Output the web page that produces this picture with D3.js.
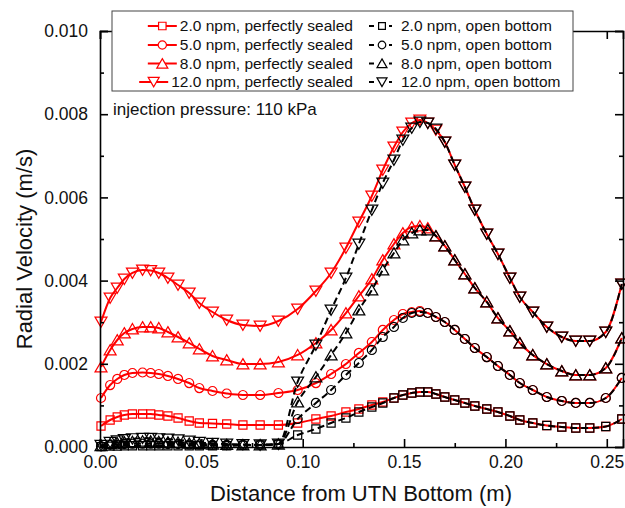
<!DOCTYPE html>
<html>
<head>
<meta charset="utf-8">
<script src="https://cdn.jsdelivr.net/npm/d3@7"></script>
<style>
body { margin: 0; background: #fff; }
svg { font-family: "Liberation Sans", Arial, sans-serif; }
.axis path, .axis line { stroke: #000; stroke-width: 1.6; }
.axis text { font-size: 17.5px; fill: #111; }
.lab { fill: #111; }
</style>
</head>
<body>
<div id="chart"></div>
<script>
// distance from bottom (m), shared by every series
const xs = [0.0005, 0.005, 0.0085, 0.012, 0.016, 0.021, 0.025, 0.029, 0.0335, 0.0385,
  0.044, 0.049, 0.0555, 0.0625, 0.0705, 0.079, 0.088, 0.0975, 0.1065, 0.114,
  0.1213, 0.1277, 0.1341, 0.1395, 0.1450, 0.1494, 0.1538, 0.1578, 0.1617, 0.1657,
  0.1701, 0.1750, 0.1800, 0.1849, 0.1908, 0.1963, 0.2022, 0.2071, 0.2135, 0.2204,
  0.2278, 0.2347, 0.2416, 0.2495, 0.2574]

// perfectly sealed (m/s)
const sealed2 = [0.000505, 0.000649, 0.000721, 0.000769, 0.000793, 0.000793, 0.000793, 0.000769, 0.000745, 0.000697,
  0.000625, 0.000577, 0.000565, 0.000553, 0.000529, 0.000529, 0.000529, 0.000577, 0.000673, 0.000745,
  0.000841, 0.000913, 0.001010, 0.001082, 0.001178, 0.001250, 0.001298, 0.001322, 0.001322, 0.001274,
  0.001202, 0.001130, 0.001058, 0.000986, 0.000913, 0.000841, 0.000745, 0.000649, 0.000577, 0.000517,
  0.000481, 0.000457, 0.000457, 0.000493, 0.000673]
const sealed5 = [0.001178, 0.001490, 0.001635, 0.001731, 0.001779, 0.001791, 0.001779, 0.001755, 0.001707, 0.001635,
  0.001538, 0.001418, 0.001346, 0.001286, 0.001250, 0.001250, 0.001298, 0.001370, 0.001538, 0.001755,
  0.001995, 0.002260, 0.002524, 0.002813, 0.003053, 0.003197, 0.003245, 0.003269, 0.003221, 0.003125,
  0.003005, 0.002813, 0.002596, 0.002380, 0.002163, 0.001947, 0.001731, 0.001538, 0.001370, 0.001202,
  0.001106, 0.001058, 0.001058, 0.001178, 0.001659]
const sealed8 = [0.001923, 0.002332, 0.002572, 0.002740, 0.002837, 0.002885, 0.002885, 0.002861, 0.002764, 0.002644,
  0.002500, 0.002356, 0.002188, 0.002091, 0.001995, 0.001995, 0.002043, 0.002212, 0.002500, 0.002813,
  0.003221, 0.003630, 0.004038, 0.004495, 0.004880, 0.005144, 0.005288, 0.005313, 0.005264, 0.005072,
  0.004832, 0.004495, 0.004159, 0.003822, 0.003486, 0.003101, 0.002788, 0.002500, 0.002212, 0.001995,
  0.001827, 0.001731, 0.001731, 0.001899, 0.002620]
const sealed12 = [0.003005, 0.003582, 0.003822, 0.004038, 0.004183, 0.004255, 0.004243, 0.004183, 0.004063, 0.003894,
  0.003702, 0.003462, 0.003245, 0.003053, 0.002933, 0.002909, 0.003029, 0.003317, 0.003750, 0.004183,
  0.004784, 0.005409, 0.006034, 0.006659, 0.007212, 0.007572, 0.007788, 0.007861, 0.007788, 0.007620,
  0.007332, 0.006779, 0.006250, 0.005697, 0.005120, 0.004639, 0.004063, 0.003606, 0.003245, 0.002885,
  0.002644, 0.002548, 0.002548, 0.002764, 0.003918]

// open bottom (m/s)
const open2 = [0.00001, 0.00002, 0.00002, 0.00003, 0.00003, 0.00003, 0.00003, 0.00003, 0.00003, 0.00003,
  0.00003, 0.00003, 0.00003, 0.00003, 0.00004, 0.00005, 0.00007, 0.000288, 0.000433, 0.000577,
  0.000697, 0.000841, 0.000962, 0.001058, 0.001178, 0.001250, 0.001298, 0.001322, 0.001322, 0.001274,
  0.001202, 0.001130, 0.001058, 0.000986, 0.000913, 0.000841, 0.000745, 0.000649, 0.000577, 0.000517,
  0.000481, 0.000457, 0.000457, 0.000493, 0.000673]
const open5 = [0.00002, 0.00005, 0.00006, 0.00007, 0.00008, 0.00008, 0.00008, 0.00008, 0.00007, 0.00007,
  0.00006, 0.00006, 0.00005, 0.00005, 0.00005, 0.00005, 0.00007, 0.000673, 0.001058, 0.001370,
  0.001731, 0.002019, 0.002332, 0.002644, 0.002885, 0.003101, 0.003221, 0.003245, 0.003221, 0.003125,
  0.003005, 0.002813, 0.002596, 0.002380, 0.002163, 0.001947, 0.001731, 0.001538, 0.001370, 0.001202,
  0.001106, 0.001058, 0.001058, 0.001178, 0.001659]
const open8 = [0.00003, 0.00008, 0.00010, 0.00012, 0.00013, 0.00014, 0.00014, 0.00013, 0.00012, 0.00011,
  0.00009, 0.00008, 0.00007, 0.00006, 0.00005, 0.00005, 0.00007, 0.001082, 0.001683, 0.002212,
  0.002740, 0.003293, 0.003774, 0.004255, 0.004663, 0.004976, 0.005144, 0.005216, 0.005216, 0.005072,
  0.004832, 0.004495, 0.004159, 0.003822, 0.003486, 0.003101, 0.002788, 0.002500, 0.002212, 0.001995,
  0.001827, 0.001731, 0.001731, 0.001899, 0.002620]
const open12 = [0.00004, 0.00011, 0.00015, 0.00018, 0.00020, 0.00021, 0.00021, 0.00020, 0.00019, 0.00017,
  0.00014, 0.00011, 0.00009, 0.00007, 0.00006, 0.00005, 0.00007, 0.001563, 0.002452, 0.003293,
  0.004063, 0.004880, 0.005697, 0.006346, 0.006899, 0.007380, 0.007668, 0.007812, 0.007788, 0.007644,
  0.007332, 0.006779, 0.006250, 0.005697, 0.005120, 0.004639, 0.004063, 0.003606, 0.003245, 0.002885,
  0.002644, 0.002548, 0.002548, 0.002764, 0.003918]

const rates = ['2.0', '5.0', '8.0', '12.0']
const xTicks = [0, 0.05, 0.10, 0.15, 0.20, 0.25]
const yTicks = [0, 0.002, 0.004, 0.006, 0.008, 0.010]

const width = 625, height = 508

const svg = d3.select('#chart').append('svg')
.attr('width', width)
.attr('height', height)

const x = d3.scaleLinear().domain([0, 0.258]).range([100, 623])
const y = d3.scaleLinear().domain([0, 0.010]).range([447, 31])

const symbols = [d3.symbolSquare, d3.symbolCircle, d3.symbolTriangle, d3.symbolTriangle]
const symSize = [66, 64, 62, 62]
const rot = [0, 0, 0, 180]

const sealed = [sealed2, sealed5, sealed8, sealed12]
const open = [open2, open5, open8, open12]

const line = d3.line()
.curve(d3.curveMonotoneX)
.x((d, i) => x(xs[i]))
.y(d => y(d))

const plot = svg.append('g')

const drawSeries = (vals, k, color, dashed) => {
	plot.append('path')
	.datum(vals)
	.attr('fill', 'none')
	.attr('stroke', color)
	.attr('stroke-width', 2)
	.attr('stroke-dasharray', dashed ? '7,4' : null)
	.attr('d', line)

	plot.append('g')
	.selectAll('path')
	.data(vals)
	.join('path')
	.attr('d', d3.symbol(symbols[k], symSize[k]))
	.attr('transform', (d, i) => `translate(${x(xs[i])},${y(d) + (k === 2 ? 1.5 : k === 3 ? -1.5 : 0)}) rotate(${rot[k]})`)
	.attr('fill', 'none')
	.attr('stroke', color)
	.attr('stroke-width', 1.2)
}

sealed.forEach((s, k) => drawSeries(s, k, '#ff0000', false))
open.forEach((s, k) => drawSeries(s, k, '#000', true))

// axes, ticks pointing inward
const xMinor = d3.range(0.025, 0.26, 0.05)
const yMinor = d3.range(0.001, 0.0101, 0.002)

svg.append('g').attr('class', 'axis').attr('transform', 'translate(0,447)')
.call(d3.axisBottom(x).tickValues(xTicks).tickSize(-8).tickPadding(9).tickFormat(d3.format('.2f')))
svg.append('g').attr('class', 'axis').attr('transform', 'translate(0,447)')
.call(d3.axisBottom(x).tickValues(xMinor).tickSize(-4).tickFormat(''))
.select('.domain').remove()

svg.append('g').attr('class', 'axis').attr('transform', 'translate(0,31)')
.call(d3.axisTop(x).tickValues(xTicks).tickSize(-8).tickFormat(''))
svg.append('g').attr('class', 'axis').attr('transform', 'translate(0,31)')
.call(d3.axisTop(x).tickValues(xMinor).tickSize(-4).tickFormat(''))
.select('.domain').remove()

svg.append('g').attr('class', 'axis').attr('transform', 'translate(100,0)')
.call(d3.axisLeft(y).tickValues(yTicks).tickSize(-8).tickPadding(12).tickFormat(d3.format('.3f')))
svg.append('g').attr('class', 'axis').attr('transform', 'translate(100,0)')
.call(d3.axisLeft(y).tickValues(yMinor).tickSize(-4).tickFormat(''))
.select('.domain').remove()

svg.append('g').attr('class', 'axis').attr('transform', 'translate(623,0)')
.call(d3.axisRight(y).tickValues(yTicks).tickSize(-8).tickFormat(''))
svg.append('g').attr('class', 'axis').attr('transform', 'translate(623,0)')
.call(d3.axisRight(y).tickValues(yMinor).tickSize(-4).tickFormat(''))
.select('.domain').remove()

svg.selectAll('.axis .domain').attr('stroke-width', 1.8)

// titles
svg.append('text')
.attr('class', 'lab')
.attr('x', 361).attr('y', 501)
.attr('text-anchor', 'middle')
.style('font-size', '22px')
.text('Distance from UTN Bottom (m)')

svg.append('text')
.attr('class', 'lab')
.attr('transform', 'translate(24,249) rotate(-90)')
.attr('text-anchor', 'middle')
.attr('dy', '0.35em')
.style('font-size', '22px')
.text('Radial Velocity (m/s)')

svg.append('text')
.attr('class', 'lab')
.attr('x', 113).attr('y', 115)
.style('font-size', '17px')
.text('injection pressure: 110 kPa')

// legend
const legend = svg.append('g')
legend.append('rect')
.attr('x', 112).attr('y', 11)
.attr('width', 461).attr('height', 80)
.attr('fill', '#fff')
.attr('stroke', '#444')
.attr('stroke-width', 1)

const rowY = [26, 45, 63.5, 82]

rates.forEach((r, k) => {
	const ly = rowY[k]

	const t = legend.append('text')
	.attr('class', 'lab')
	.attr('x', 353).attr('y', ly)
	.attr('dy', '0.35em')
	.attr('text-anchor', 'end')
	.style('font-size', '15.5px')
	.text(`${r} npm, perfectly sealed`)

	const tx = 353 - t.node().getComputedTextLength() - 3

	legend.append('line')
	.attr('x1', tx - 29).attr('x2', tx)
	.attr('y1', ly).attr('y2', ly)
	.attr('stroke', '#ff0000').attr('stroke-width', 2)

	legend.append('path')
	.attr('d', d3.symbol(symbols[k], symSize[k] * 0.85))
	.attr('transform', `translate(${tx - 14.5},${ly + (k === 2 ? 1.5 : k === 3 ? -1.5 : 0)}) rotate(${rot[k]})`)
	.attr('fill', '#fff').attr('stroke', '#ff0000').attr('stroke-width', 1.2)

	legend.append('text')
	.attr('class', 'lab')
	.attr('x', 401).attr('y', ly)
	.attr('dy', '0.35em')
	.style('font-size', '15.5px')
	.text(`${r} npm, open bottom`)

	legend.append('line')
	.attr('x1', 369).attr('x2', 392)
	.attr('y1', ly).attr('y2', ly)
	.attr('stroke', '#000').attr('stroke-width', 2)
	.attr('stroke-dasharray', '5,5')

	legend.append('path')
	.attr('d', d3.symbol(symbols[k], symSize[k] * 0.7))
	.attr('transform', `translate(${382},${ly + (k === 2 ? 1.2 : k === 3 ? -1.2 : 0)}) rotate(${rot[k]})`)
	.attr('fill', '#fff').attr('stroke', '#000').attr('stroke-width', 1.2)
})
</script>
</body>
</html>
